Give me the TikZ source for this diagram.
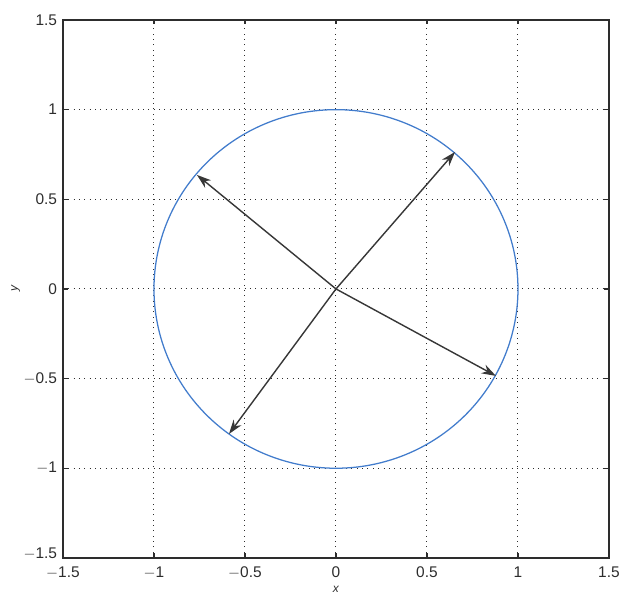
\documentclass[tikz,border=0pt]{standalone}
\usepackage{fontspec}
\setmainfont{Liberation Sans}
\usetikzlibrary{arrows.meta}

\definecolor{azulcirc}{RGB}{66,124,204}
\definecolor{cinzaeixo}{RGB}{45,45,45}
\definecolor{cinzavet}{RGB}{55,55,55}

\tikzset{
  grade/.style={cinzaeixo, line width=0.7pt, dash pattern=on 0.6pt off 3.2pt},
  moldura/.style={cinzaeixo, line width=0.9pt},
  vetor/.style={cinzavet, line width=1pt, -{Stealth[length=0.36cm, width=0.24cm]}},
  rotulo/.style={font=\fontsize{11}{12}\selectfont, text=cinzaeixo, inner sep=0pt},
}

\begin{document}
\begin{tikzpicture}[x=4.55cm, y=4.4825cm]
        % 1. VARIABLES
        \def\M{1.5}   % limite dos eixos
        \def\T{0.025} % comprimento dos tiques

        % margens da figura
        \useasboundingbox (-1.846,-1.695) rectangle (1.555,1.6115);

        % ==========================================
        % 2. GRADE PONTILHADA
        % ==========================================
        \foreach \v in {-1,-0.5,0,0.5,1} {
          \draw[grade] (\v,-\M) -- (\v,\M);
          \draw[grade] (-\M,\v) -- (\M,\v);
        }

        % ==========================================
        % 3. MOLDURA, TIQUES E VALORES
        % ==========================================
        % \s = pequeno ajuste vertical do rotulo do eixo y em -1.5
        \draw[moldura] (-\M,-\M) rectangle (\M,\M);
        \foreach \v/\t/\s in {-1.5/$-$1.5/3pt,-1/$-$1/0pt,-0.5/$-$0.5/0pt,0/0/0pt,0.5/0.5/0pt,1/1/0pt,1.5/1.5/0pt} {
          \draw[moldura] (\v,-\M) -- ++(0,\T) (\v,\M) -- ++(0,-\T);
          \draw[moldura] (-\M,\v) -- ++(\T,0) (\M,\v) -- ++(-\T,0);
          \node[rotulo, below=6pt] (rx\v) at (\v,-\M) {\t};
          \node[rotulo, left=4pt, yshift=\s] (ry\v) at (-\M,\v) {\t};
        }
        \node[rotulo, font=\fontsize{8.5}{9}\selectfont\itshape] (rotx) at (0,-1.675) {x};
        \node[rotulo, font=\fontsize{8.5}{9}\selectfont\itshape, rotate=90] (roty) at (-1.76,0) {y};

        % ==========================================
        % 4. CIRCULO UNITARIO E VETORES
        % ==========================================
        \draw[azulcirc, line width=0.9pt, domain=0:360, samples=240, smooth]
          plot ({cos(\x)},{sin(\x)});

        \coordinate (O) at (0,0);
        \coordinate (va) at (0.654,0.764);
        \coordinate (vb) at (-0.764,0.636);
        \coordinate (vc) at (0.879,-0.485);
        \coordinate (vd) at (-0.588,-0.809);
        \foreach \p in {va,vb,vc,vd}
          \draw[vetor] (O) -- (\p);

    \end{tikzpicture}
\end{document}
